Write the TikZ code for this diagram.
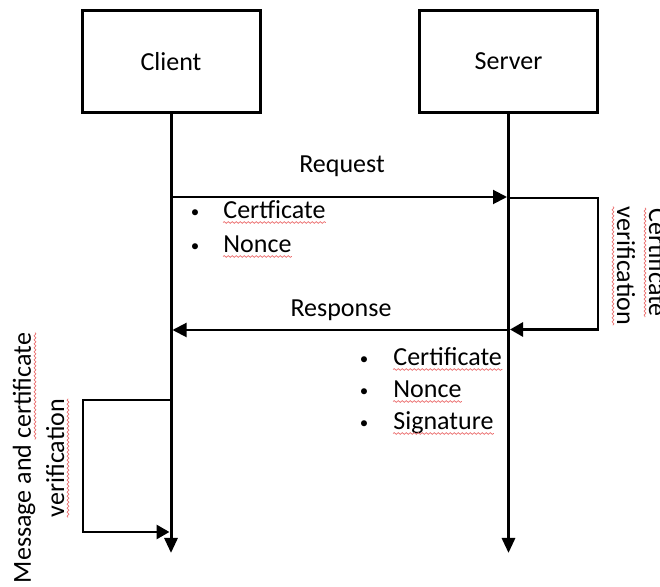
\documentclass[tikz,border=0pt]{standalone}
\usepackage{fontspec}
\setmainfont{Carlito}
\usetikzlibrary{arrows.meta,decorations.pathmorphing,calc}

\newcommand\smallbullet{\raisebox{0.5pt}{\fontsize{8.5}{9}\selectfont •}}

\begin{document}
\begin{tikzpicture}[x=0.5pt,y=-0.5pt,
  font=\fontsize{13}{16}\selectfont,
  actor/.style={draw,line width=1.5pt,minimum width=89pt,minimum height=51pt,inner sep=0pt},
  lifeline/.style={line width=1.5pt,-{Triangle[length=7.5pt,width=6.5pt]}},
  msg/.style={line width=1pt,-{Triangle[length=7pt,width=7pt]}},
  selfloop/.style={line width=1.4pt,-{Triangle[length=6.5pt,width=7pt]}},
  txt/.style={inner sep=0pt,anchor=base},
  item/.style={inner sep=0pt,anchor=base west},
  spell/.style={draw={rgb,255:red,236;green,112;blue,112},line width=0.35pt,
    decorate,decoration={snake,amplitude=0.45pt,segment length=2pt}},
]
\useasboundingbox (0,0) rectangle (660,587);
\fill[white] (0,0) rectangle (660,587);

% participants
\node[actor] (client) at (171,61.5) {Client};
\node[actor] (server) at (508.5,61.5) {Server};

% lifelines
\coordinate (clientEnd) at (171,553);
\coordinate (serverEnd) at (508.5,553);
\draw[lifeline] (client.south) -- (clientEnd);
\draw[lifeline] (server.south) -- (serverEnd);

% request
\coordinate (reqFrom) at (171,197);
\coordinate (reqTo) at (507,197);
\draw[msg] (reqFrom) -- (reqTo);
\node[txt] (req) at (342,173) {Request};

% certificate check on the server
\coordinate (svFrom) at (508.5,198);
\coordinate (svTo) at (510,329.5);
\draw[selfloop] (svFrom) -- ++(89.5,0) |- (svTo);
\node[txt,rotate=-90] (cv1) at (649,262.5) {Certificate};
\node[txt,rotate=-90] (cv2) at (617,266) {verification};

% response
\coordinate (respFrom) at (508.5,330);
\coordinate (respTo) at (172.5,330);
\draw[msg] (respFrom) -- (respTo);
\node[txt] (resp) at (341,317) {Response};

% request payload
\node[txt] (b1) at (195,219) {\smallbullet};
\node[item] (w1) at (223,219) {Certficate};
\node[txt] (b2) at (195,253) {\smallbullet};
\node[item] (w2) at (223,253) {Nonce};

% response payload
\node[txt] (b3) at (364,366) {\smallbullet};
\node[item] (w3) at (393,366) {Certificate};
\node[txt] (b4) at (364,398) {\smallbullet};
\node[item] (w4) at (393,398) {Nonce};
\node[txt] (b5) at (364,430) {\smallbullet};
\node[item] (w5) at (393,430) {Signature};

% check on the client
\coordinate (clFrom) at (171,400);
\coordinate (clTo) at (169.5,532);
\draw[selfloop] (clFrom) -- ++(-88,0) |- (clTo);
\node[txt,rotate=90] (mc1) at (31,458) {Message and certificate};
\node[txt,rotate=90] (mc2) at (64,458) {verification};

% spell-check underlines
\foreach \w in {w1,w2,w3,w4,w5}
  \draw[spell] ($(\w.base west)+(0,3.5)$) -- ($(\w.base east)+(0,3.5)$);
\draw[spell] ($(cv1.base west)+(-4,0)$) -- ($(cv1.base east)+(-4,0)$);
\draw[spell] ($(cv2.base west)+(-4,0)$) -- ($(cv2.base east)+(-4,0)$);
\draw[spell] ($(mc1.base east)+(4,0)$) -- ($(mc1.base east)+(4,107)$);
\draw[spell] ($(mc2.base west)+(4,0)$) -- ($(mc2.base east)+(4,0)$);
\end{tikzpicture}
\end{document}
